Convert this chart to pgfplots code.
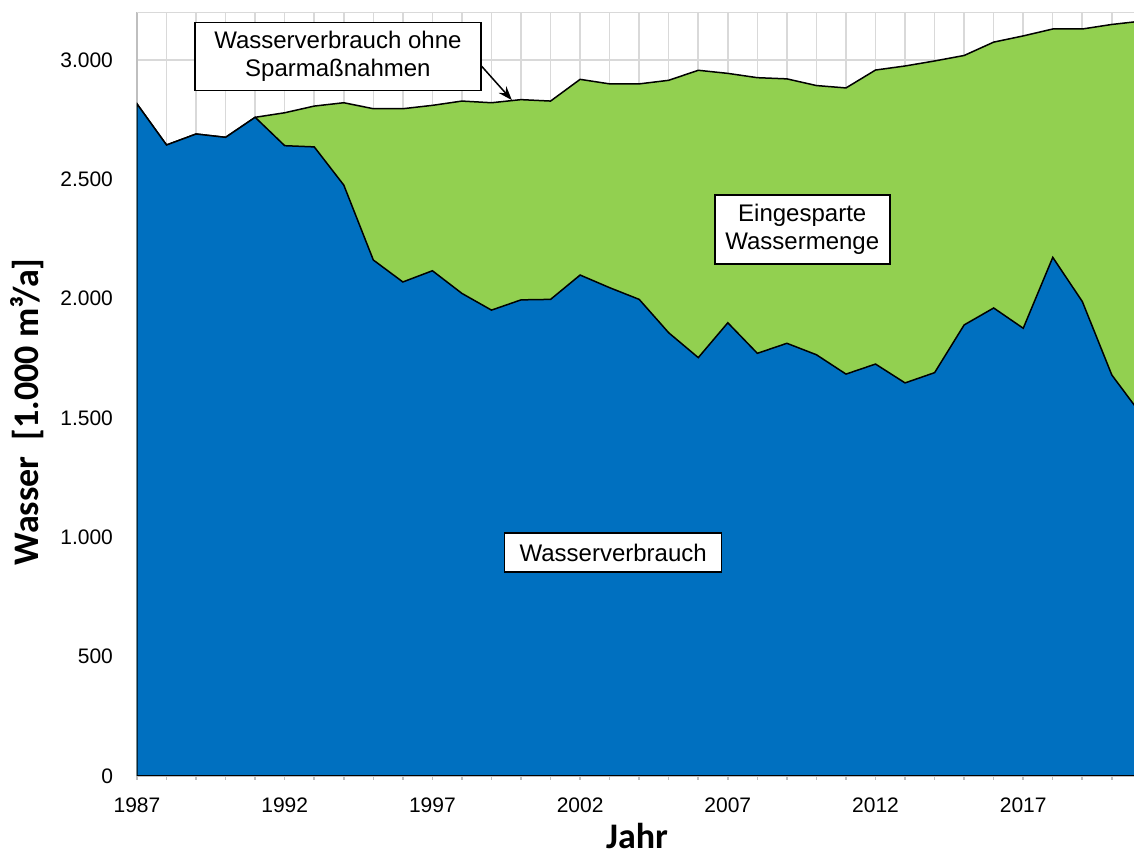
\documentclass[border=0pt]{standalone}
\usepackage{fontspec}
\setmainfont{Liberation Sans}
\newfontfamily\calibri{Carlito}
\usepackage{pgfplots}
\usepackage{pgfplotstable}
\pgfplotsset{compat=1.18}
\usetikzlibrary{arrows.meta}
\definecolor{exblue}{HTML}{0070C0}
\definecolor{exgreen}{HTML}{92D050}
\definecolor{gridgray}{HTML}{D9D9D9}
\definecolor{axgray}{HTML}{BFBFBF}

\pgfplotstableread{
year blue top
1987 2816 2816
1988 2644 2644
1989 2690 2690
1990 2676 2676
1991 2760 2760
1992 2641 2779
1993 2636 2807
1994 2476 2821
1995 2162 2796
1996 2070 2796
1997 2117 2810
1998 2022 2828
1999 1952 2821
2000 1995 2834
2001 1997 2828
2002 2099 2919
2003 2046 2900
2004 1997 2900
2005 1857 2915
2006 1753 2957
2007 1899 2944
2008 1771 2926
2009 1813 2921
2010 1765 2893
2011 1684 2883
2012 1726 2958
2013 1647 2975
2014 1690 2996
2015 1890 3019
2016 1961 3075
2017 1876 3101
2018 2173 3130
2019 1988 3130
2020 1680 3149
2021 1514 3163
}\datatable

\begin{document}
\begin{tikzpicture}
\begin{axis}[
  scale only axis,
  width=498.5pt, height=381.85pt,
  xmin=1987, xmax=2020.75, ymin=0, ymax=3200,
  axis x line=bottom, axis y line=left,
  x axis line style={-, draw=axgray, line width=0.75pt},
  y axis line style={-, draw=axgray, line width=0.75pt},
  xtick={1987,1992,...,2017},
  minor xtick={1987,...,2021},
  ytick={0,500,...,3000},
  extra y ticks={3200}, extra y tick labels={},
  extra y tick style={ymajorgrids=true, major grid style={gridgray, line width=0.75pt}, major tick length=0pt},
  xmajorgrids, xminorgrids, ymajorgrids,
  major grid style={gridgray, line width=0.75pt},
  minor grid style={gridgray, line width=0.75pt},
  tick align=outside,
  major tick length=2pt, minor tick length=2pt,
  x tick style={axgray, line width=0.75pt},
  y tick style={draw=none},
  /pgf/number format/assume math mode=true,
  x tick label style={/pgf/number format/1000 sep={}, yshift=-5.5pt},
  y tick label style={/pgf/number format/1000 sep={.}, xshift=-6.5pt},
  tick label style={font=\fontsize{10.5}{12}\selectfont},
  xlabel={Jahr},
  ylabel={Wasser\ \ [1.000 m³/a]},
  label style={font=\calibri\bfseries\fontsize{18}{20}\selectfont},
  xlabel style={at={(axis description cs:0.5015,-0.0956)}, anchor=base},
  ylabel style={at={(axis description cs:-0.1098,0.4768)}, anchor=center},
]
\addplot[draw=black, line width=0.75pt, fill=exgreen] table[x=year, y=top] {\datatable} \closedcycle;
\addplot[draw=black, line width=0.75pt, fill=exblue] table[x=year, y=blue] {\datatable} \closedcycle;

\node[draw=black, fill=white, line width=0.75pt, minimum width=143pt, minimum height=34pt,
      align=center, font=\fontsize{12}{14}\selectfont]
  at (axis cs:1993.8,3014) {Wasserverbrauch ohne\\Sparmaßnahmen};
\draw[black, line width=0.75pt, -{Stealth[length=7pt,width=5pt]}] (axis cs:1998.63,2979) -- (axis cs:1999.69,2832);
\node[draw=black, fill=white, line width=0.75pt, minimum width=87.5pt, minimum height=34.5pt,
      align=center, font=\fontsize{12}{14}\selectfont]
  at (axis cs:2009.52,2290) {Eingesparte\\Wassermenge};
\node[draw=black, fill=white, line width=0.75pt, minimum width=108.5pt, minimum height=19.5pt,
      align=center, font=\fontsize{12}{14}\selectfont]
  at (axis cs:2003.12,936) {Wasserverbrauch};
\end{axis}
\pgfresetboundingbox
\path[use as bounding box] ([xshift=-68.5pt,yshift=-40.5pt]current axis.south west) rectangle ([yshift=6.15pt]current axis.north east);
\end{tikzpicture}
\end{document}
